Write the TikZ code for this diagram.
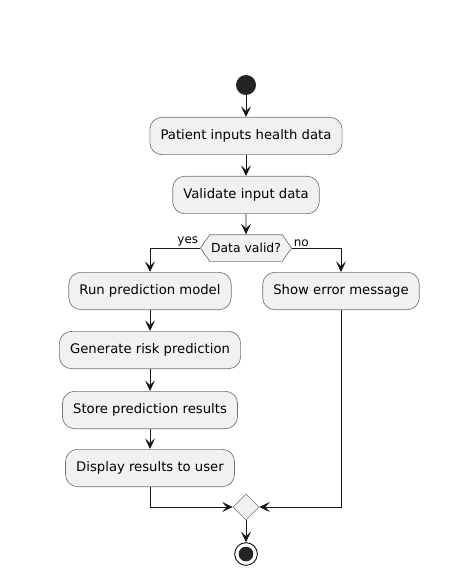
\documentclass[tikz,border=0pt]{standalone}
\usepackage{fontspec}
\setmainfont{DejaVu Sans}
\usetikzlibrary{arrows.meta,shapes.geometric,shapes.symbols}
\definecolor{actfill}{HTML}{F1F1F1}
\definecolor{actline}{HTML}{181818}
\tikzset{
  act/.style={draw=actline!60, fill=actfill, rounded corners=9pt,
    minimum height=28pt, inner xsep=8pt, line width=0.5pt,
    font=\fontsize{9.9}{12}\selectfont},
  decide/.style={draw=actline!60, fill=actfill, shape=signal,
    signal to=west and east, signal pointer angle=110, inner xsep=1pt,
    minimum height=20pt, line width=0.5pt, font=\fontsize{9.3}{11}\selectfont},
  lbl/.style={inner sep=1pt, font=\fontsize{9}{10}\selectfont},
  flow/.style={draw=actline, line width=0.7pt,
    -{Stealth[length=8pt,width=7.5pt,inset=3.5pt]}},
}
\begin{document}
\begin{tikzpicture}[x=0.75pt, y=-0.75pt]
  \useasboundingbox (0,0) rectangle (471,573);
  \def \Acts{
    patient/246/136/Patient inputs health data,
    validate/246/195/Validate input data,
    run/150/291/Run prediction model,
    generate/150/350/Generate risk prediction,
    store/150/410/Store prediction results,
    display/150/468/Display results to user,
    error/341/291/Show error message}
  \def \Edges{
    start/patient,
    patient/validate,
    validate/valid,
    run/generate,
    generate/store,
    store/display,
    merge/stop}
  \node[circle, fill=actline!95, minimum size=15pt, inner sep=0pt] (start) at (246, 85) {};
  \foreach \id / \x / \y / \txt in \Acts{
    \node[act] (\id) at (\x, \y) {\txt};
  }
  \node[decide] (valid) at (246, 248) {Data valid?};
  \node[diamond, draw=actline!60, fill=actfill, minimum size=19.5pt, inner sep=0pt] (merge) at (246, 507) {};
  \node[circle, draw=actline, line width=0.7pt, fill=white, minimum size=17pt, inner sep=0pt,
    path picture={\fill[actline!95] (path picture bounding box.center) circle (5.5pt);}] (stop) at (246, 554) {};
  \foreach \x / \y in \Edges{
    \path[flow] (\x) -- (\y);
  }
  \path[flow] (valid.west) node[lbl, anchor=south east] {yes} -| (run.north);
  \path[flow] (valid.east) node[lbl, anchor=south west] {no} -| (error.north);
  \path[flow] (display.south) |- (merge.west);
  \path[flow] (error.south) |- (merge.east);
\end{tikzpicture}
\end{document}
